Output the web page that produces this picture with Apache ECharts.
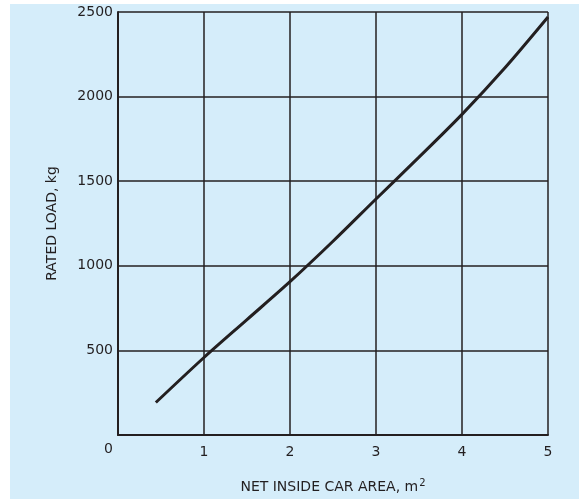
<!DOCTYPE html>
<html><head><meta charset="utf-8">
<script src="https://cdn.jsdelivr.net/npm/echarts@6/dist/echarts.min.js"></script>
<style>
html,body{margin:0;padding:0;background:#fff;width:579px;height:499px;overflow:hidden;}
#c{position:absolute;left:10px;top:4px;width:569px;height:495px;}
</style></head>
<body><div id="c"></div>
<script>
const areaX = [0.44, 1, 1.5, 2, 2.5, 3, 3.5, 4, 4.5, 5];
const loadKg = [192, 458, 682, 906, 1145, 1395, 1642, 1895, 2170, 2470];
const xTicks = [0, 1, 2, 3, 4, 5];
const yTicks = [0, 500, 1000, 1500, 2000, 2500];
const xTitle = 'NET INSIDE CAR AREA, m';
const yTitle = 'RATED LOAD, kg';

const ink = '#231f20';
const font = 'DejaVu Sans';
const chart = echarts.init(document.getElementById('c'), null, {renderer:'canvas'});
chart.setOption({
  backgroundColor: '#d5edfa',
  animation: false,
  grid: {left: 108, right: 31, top: 8, bottom: 62},
  xAxis: {
    type: 'value', min: xTicks[0], max: xTicks[xTicks.length-1], interval: 1,
    axisLine: {show: true, lineStyle: {color: ink, width: 2}},
    axisTick: {show: false},
    splitLine: {show: true, lineStyle: {color: ink, width: 1.5}},
    axisLabel: {color: ink, fontFamily: font, fontSize: 14, margin: 10,
      formatter: v => v === 0 ? '' : String(v)},
    name: xTitle + '{s|2}',
    nameLocation: 'middle', nameGap: 43,
    nameTextStyle: {color: ink, fontFamily: font, fontSize: 14,
      rich: {s: {fontSize: 10, verticalAlign: 'top', padding: [0,0,8,1], color: ink, fontFamily: font}}}
  },
  yAxis: {
    type: 'value', min: yTicks[0], max: yTicks[yTicks.length-1], interval: 500,
    axisLine: {show: true, lineStyle: {color: ink, width: 2}},
    axisTick: {show: false},
    splitLine: {show: true, lineStyle: {color: ink, width: 1.5}},
    axisLabel: {color: ink, fontFamily: font, fontSize: 14, margin: 5,
      formatter: v => v === 0 ? '' : String(v)},
    name: yTitle, nameLocation: 'middle', nameGap: 59, nameRotate: 90,
    nameTextStyle: {color: ink, fontFamily: font, fontSize: 14}
  },
  graphic: [{
    type: 'text', left: 94, top: 438,
    style: {text: '0', fill: ink, font: '14px "DejaVu Sans"'}
  }],
  series: [{
    type: 'line', smooth: 0.3, symbol: 'none',
    data: areaX.map((x, i) => [x, loadKg[i]]),
    lineStyle: {color: ink, width: 3}
  }]
});
</script></body></html>
